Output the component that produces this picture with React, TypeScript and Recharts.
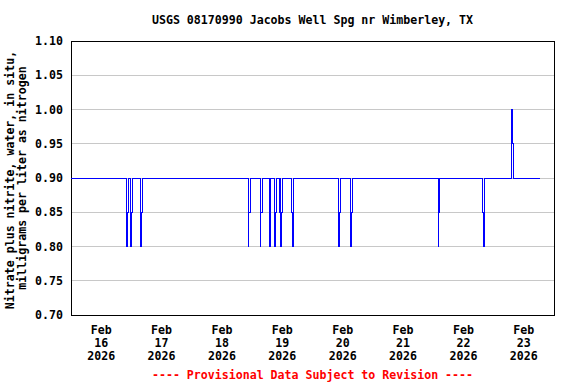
import React from "react";
import { LineChart, Line, XAxis, YAxis, CartesianGrid, ReferenceArea } from "recharts";

// ---- data (15-minute readings where the value changes; line is flat at 0.90 otherwise) ----
const times: string[] = [
  "2026-02-16T00:00",
  "2026-02-16T21:45", "2026-02-16T22:00", "2026-02-16T22:15", "2026-02-16T22:30", "2026-02-16T22:45",
  "2026-02-16T23:30", "2026-02-16T23:45", "2026-02-17T00:00", "2026-02-17T00:15", "2026-02-17T00:30",
  "2026-02-17T03:15", "2026-02-17T03:30", "2026-02-17T03:45", "2026-02-17T04:00", "2026-02-17T04:15",
  "2026-02-18T22:15", "2026-02-18T22:30", "2026-02-18T22:45", "2026-02-18T23:00", "2026-02-18T23:15",
  "2026-02-19T03:00", "2026-02-19T03:15", "2026-02-19T03:30", "2026-02-19T03:45", "2026-02-19T04:00",
  "2026-02-19T06:30", "2026-02-19T06:45", "2026-02-19T07:00", "2026-02-19T07:15", "2026-02-19T07:30",
  "2026-02-19T08:45", "2026-02-19T09:00", "2026-02-19T09:15", "2026-02-19T09:30", "2026-02-19T09:45",
  "2026-02-19T10:30", "2026-02-19T10:45", "2026-02-19T11:00", "2026-02-19T11:15", "2026-02-19T11:30", "2026-02-19T11:45", "2026-02-19T12:00",
  "2026-02-19T15:30", "2026-02-19T15:45", "2026-02-19T16:00", "2026-02-19T16:15", "2026-02-19T16:30",
  "2026-02-20T10:00", "2026-02-20T10:15", "2026-02-20T10:30", "2026-02-20T10:45", "2026-02-20T11:00", "2026-02-20T11:15",
  "2026-02-20T15:00", "2026-02-20T15:15", "2026-02-20T15:30", "2026-02-20T15:45", "2026-02-20T16:00",
  "2026-02-22T01:45", "2026-02-22T02:00", "2026-02-22T02:15", "2026-02-22T02:30",
  "2026-02-22T19:30", "2026-02-22T19:45", "2026-02-22T20:00", "2026-02-22T20:15",
  "2026-02-23T07:00", "2026-02-23T07:15", "2026-02-23T07:30", "2026-02-23T07:45",
  "2026-02-23T18:30",
];

const nitrate: number[] = [
  0.90,
  0.90, 0.80, 0.80, 0.85, 0.90,
  0.90, 0.80, 0.85, 0.85, 0.90,
  0.90, 0.85, 0.80, 0.85, 0.90,
  0.90, 0.80, 0.85, 0.85, 0.90,
  0.90, 0.80, 0.85, 0.85, 0.90,
  0.90, 0.85, 0.80, 0.85, 0.90,
  0.90, 0.80, 0.85, 0.85, 0.90,
  0.90, 0.85, 0.90, 0.80, 0.80, 0.85, 0.90,
  0.90, 0.85, 0.80, 0.85, 0.90,
  0.90, 0.85, 0.80, 0.85, 0.85, 0.90,
  0.90, 0.80, 0.85, 0.85, 0.90,
  0.90, 0.80, 0.85, 0.90,
  0.90, 0.85, 0.80, 0.90,
  0.90, 1.00, 0.95, 0.90,
  0.90,
];

const startTime = "2026-02-16T00:00";
const endHour = 192; // Feb 24 00:00
const gridTicks: number[] = [0, 24, 48, 72, 96, 120, 144, 168, 192];
const labelTicks: number[] = [12, 36, 60, 84, 108, 132, 156, 180];
const monthLabel = "Feb";
const dayLabels: string[] = ["16", "17", "18", "19", "20", "21", "22", "23"];
const yearLabel = "2026";
const yTicks: number[] = [0.7, 0.75, 0.8, 0.85, 0.9, 0.95, 1.0, 1.05, 1.1];

const title = "USGS 08170990 Jacobs Well Spg nr Wimberley, TX";
const yLabel1 = "Nitrate plus nitrite, water, in situ,";
const yLabel2 = "milligrams per liter as nitrogen";
const footer = "---- Provisional Data Subject to Revision ----";

const toMs = (s: string) => Date.parse(s + ":00Z");
const data = times.map((t, i) => ({ t: (toMs(t) - toMs(startTime)) / 3600000, v: nitrate[i] }));

const FONT = "'DejaVu Sans Mono', monospace";
const FS = 11.6;

const DayTick = (props: any) => {
  const { x, y, payload } = props;
  const i = labelTicks.indexOf(payload.value);
  const common = { x, textAnchor: "middle" as const, fontFamily: FONT, fontSize: FS, fontWeight: "bold", fill: "#000" };
  return (
    <g>
      <text {...common} y={y + 19}>{monthLabel}</text>
      <text {...common} y={y + 32}>{dayLabels[i]}</text>
      <text {...common} y={y + 45}>{yearLabel}</text>
    </g>
  );
};

export default function App() {
  return (
    <div style={{ position: "absolute", left: 0, top: 0, width: 576, height: 384, background: "#fff" }}>
      <LineChart width={576} height={384} data={data} margin={{ top: 41, right: 22, bottom: 19, left: 0 }}>
        <CartesianGrid stroke="#c8c8c8" strokeWidth={1} shapeRendering="crispEdges" />
        <XAxis
          dataKey="t"
          type="number"
          domain={[0, endHour]}
          ticks={gridTicks}
          tick={false}
          tickLine={false}
          axisLine={false}
          height={0}
          allowDataOverflow
        />
        <XAxis
          xAxisId="labels"
          dataKey="t"
          type="number"
          domain={[0, endHour]}
          ticks={labelTicks}
          tick={<DayTick />}
          tickLine={false}
          axisLine={false}
          tickSize={0}
          tickMargin={0}
          height={50}
          interval={0}
          allowDataOverflow
        />
        <YAxis
          type="number"
          domain={[0.7, 1.1]}
          ticks={yTicks}
          interval={0}
          width={71}
          tickLine={false}
          axisLine={false}
          tickSize={6}
          tickMargin={2}
          tickFormatter={(v: number) => v.toFixed(2)}
          tick={{ fill: "#000", fontFamily: FONT, fontSize: FS, fontWeight: "bold" }}
          allowDataOverflow
        />
        <Line
          type="stepAfter"
          dataKey="v"
          stroke="#0000ff"
          strokeWidth={1}
          dot={false}
          activeDot={false}
          isAnimationActive={false}
          shapeRendering="crispEdges"
        />
        <ReferenceArea
          x1={0}
          x2={endHour}
          y1={0.7}
          y2={1.1}
          fill="none"
          fillOpacity={0}
          stroke="#000"
          strokeWidth={1}
          shapeRendering="crispEdges"
          ifOverflow="visible"
        />
      </LineChart>
      <svg
        width={576}
        height={384}
        style={{ position: "absolute", left: 0, top: 0, pointerEvents: "none" }}
      >
        <text x={312.5} y={23.5} textAnchor="middle" fontFamily={FONT} fontSize={FS} fontWeight="bold" fill="#000">
          {title}
        </text>
        <text
          transform="translate(14,180) rotate(-90)"
          textAnchor="middle"
          fontFamily={FONT}
          fontSize={FS}
          fontWeight="bold"
          fill="#000"
        >
          {yLabel1}
        </text>
        <text
          transform="translate(26,178) rotate(-90)"
          textAnchor="middle"
          fontFamily={FONT}
          fontSize={FS}
          fontWeight="bold"
          fill="#000"
        >
          {yLabel2}
        </text>
        <text x={312.5} y={379} textAnchor="middle" fontFamily={FONT} fontSize={FS} fontWeight="bold" fill="#ff0000">
          {footer}
        </text>
      </svg>
    </div>
  );
}
